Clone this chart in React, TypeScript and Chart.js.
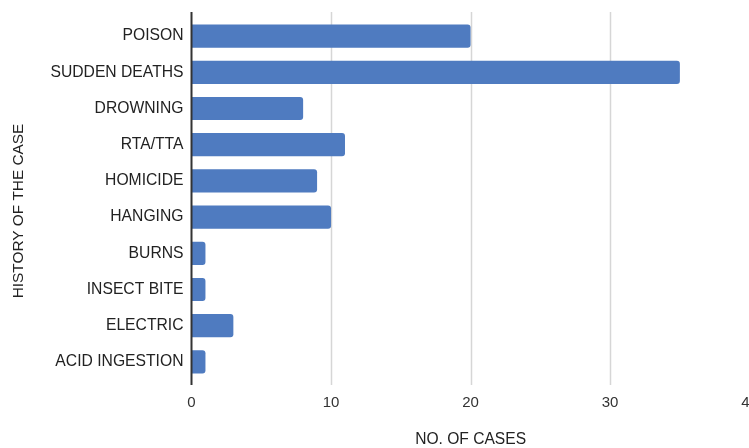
import React, { useEffect, useRef } from "react";
import { Chart, registerables } from "chart.js";

Chart.register(...registerables);

const categories = [
  "POISON",
  "SUDDEN DEATHS",
  "DROWNING",
  "RTA/TTA",
  "HOMICIDE",
  "HANGING",
  "BURNS",
  "INSECT BITE",
  "ELECTRIC",
  "ACID INGESTION",
];
const cases = [20, 35, 8, 11, 9, 10, 1, 1, 3, 1];
const xTicks = [0, 10, 20, 30, 40];
const xTitle = "NO. OF CASES";
const yTitle = "HISTORY OF THE CASE";

const FONT = "'Liberation Sans', Arial, sans-serif";

export default function App() {
  const ref = useRef<HTMLCanvasElement | null>(null);

  useEffect(() => {
    if (!ref.current) return;
    document.body.style.margin = "0";
    document.body.style.overflow = "hidden";

    const decor = {
      id: "decor",
      beforeDatasetsDraw(chart: any) {
        const { ctx, chartArea, scales } = chart;
        const x = scales.x;
        ctx.save();
        ctx.strokeStyle = "#d6d6d6";
        ctx.lineWidth = 1.5;
        for (const v of xTicks) {
          if (v === 0) continue;
          const px = Math.round(x.getPixelForValue(v)) + 0.5;
          ctx.beginPath();
          ctx.moveTo(px, chartArea.top - 6);
          ctx.lineTo(px, chartArea.bottom + 5);
          ctx.stroke();
        }
        ctx.restore();
      },
      afterDatasetsDraw(chart: any) {
        const { ctx, chartArea, scales } = chart;
        const x = scales.x;
        ctx.save();
        ctx.strokeStyle = "#333333";
        ctx.lineWidth = 2;
        const px = x.getPixelForValue(0);
        ctx.beginPath();
        ctx.moveTo(px, chartArea.top - 6);
        ctx.lineTo(px, chartArea.bottom + 5);
        ctx.stroke();

        ctx.fillStyle = "#222222";
        ctx.font = `15.6px ${FONT}`;
        ctx.textAlign = "center";
        ctx.textBaseline = "middle";
        ctx.fillText(xTitle, (chartArea.left + chartArea.right) / 2, 440);
        ctx.font = `15.4px ${FONT}`;
        ctx.translate(19, 211);
        ctx.rotate(-Math.PI / 2);
        ctx.fillText(yTitle, 0, 0);
        ctx.restore();
      },
    };

    const chart = new Chart(ref.current, {
      type: "bar",
      data: {
        labels: categories,
        datasets: [
          {
            data: cases,
            backgroundColor: "#4f7bc0",
            borderRadius: 3,
            barPercentage: 0.64,
            categoryPercentage: 1,
          },
        ],
      },
      options: {
        indexAxis: "y",
        responsive: false,
        animation: false,
        devicePixelRatio: 1,
        layout: { padding: { top: 18, left: 0, right: 0, bottom: 0 } },
        plugins: {
          legend: { display: false },
          tooltip: { enabled: false },
        },
        scales: {
          x: {
            min: 0,
            max: 40,
            afterBuildTicks(scale: any) {
              scale.ticks = xTicks.map((v) => ({ value: v }));
            },
            afterFit(scale: any) {
              scale.height = 68;
            },
            grid: { display: false, drawTicks: false },
            border: { display: false },
            ticks: {
              color: "#333333",
              font: { family: FONT, size: 15 },
              padding: 14,
              maxRotation: 0,
            },
          },
          y: {
            afterFit(scale: any) {
              scale.width = 191.5;
            },
            grid: { display: false, drawTicks: false },
            border: { display: false },
            ticks: {
              color: "#222222",
              font: { family: FONT, size: 15.7 },
              padding: 8,
            },
          },
        },
      },
      plugins: [decor],
    });
    return () => chart.destroy();
  }, []);

  return (
    <div
      style={{
        position: "absolute",
        left: 0,
        top: 0,
        width: 749,
        height: 448,
        overflow: "hidden",
        background: "#fff",
      }}
    >
      <canvas ref={ref} width={772} height={448} style={{ display: "block" }} />
    </div>
  );
}
